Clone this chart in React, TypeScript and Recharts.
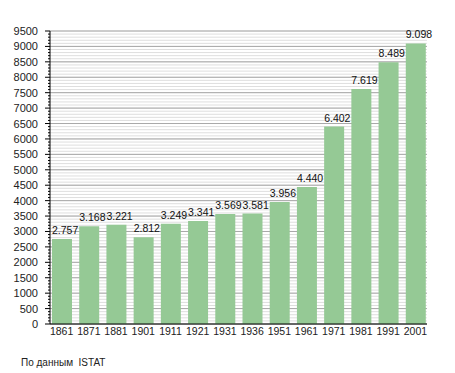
import React from "react";
import { BarChart, Bar, XAxis, YAxis, CartesianGrid, LabelList } from "recharts";

const years = ["1861", "1871", "1881", "1901", "1911", "1921", "1931", "1936", "1951", "1961", "1971", "1981", "1991", "2001"];
const population = [2757, 3168, 3221, 2812, 3249, 3341, 3569, 3581, 3956, 4440, 6402, 7619, 8489, 9098];
const minorTicks = Array.from({ length: 96 }, (_, i) => i * 100);
const majorTicks = minorTicks.filter((v) => v % 500 === 0);
const sourceNote = "По данным  ISTAT";

const data = years.map((y, i) => ({ year: y, value: population[i] }));

const FONT = "'Liberation Sans', Arial, sans-serif";

const fmt = (v: number) => {
  const s = String(v);
  return s.length > 3 ? s.slice(0, s.length - 3) + "." + s.slice(s.length - 3) : s;
};

const YTick = (props: any) => {
  const { x, y, payload } = props;
  const major = payload.value % 500 === 0;
  return (
    <g>
      <line x1={x - (major ? 5 : 2)} x2={x} y1={y} y2={y} stroke="#000" strokeWidth={1} />
      {major && (
        <text x={x - 12} y={y} dy={4} textAnchor="end" fontSize={11} fontFamily={FONT} fill="#222">
          {payload.value}
        </text>
      )}
    </g>
  );
};

const BarLabel = (props: any) => {
  const { x, y, value } = props;
  return (
    <text x={x} y={y - 5} textAnchor="start" fontSize={10.5} fontFamily={FONT} fill="#111">
      {fmt(value)}
    </text>
  );
};

export default function App() {
  return (
    <div style={{ position: "absolute", left: 0, top: 0, width: 455, height: 373, background: "#fff" }}>
      <BarChart
        width={455}
        height={373}
        data={data}
        margin={{ top: 31, right: 28, bottom: 0, left: 0 }}
      >
        <CartesianGrid horizontalValues={minorTicks} vertical={false} stroke="#dedede" strokeWidth={1} />
        <CartesianGrid horizontalValues={majorTicks} vertical={false} stroke="#a8a8a8" strokeWidth={1} />
        <XAxis
          dataKey="year"
          height={49}
          tickLine={false}
          tickSize={0}
          tickMargin={4}
          axisLine={{ stroke: "#000" }}
          padding={{ left: -2, right: -2 }}
          tick={{ fontSize: 10.5, fontFamily: FONT, fill: "#222" }}
          interval={0}
        />
        <YAxis
          width={50}
          domain={[0, 9500]}
          ticks={minorTicks}
          interval={0}
          tickLine={false}
          tickSize={0}
          tickMargin={0}
          axisLine={{ stroke: "#000" }}
          tick={<YTick />}
        />
        <Bar dataKey="value" fill="#95c995" barSize={20} isAnimationActive={false}>
          <LabelList dataKey="value" content={<BarLabel />} />
        </Bar>
      </BarChart>
      <div
        style={{
          position: "absolute",
          left: 21,
          top: 357,
          fontSize: 10,
          fontFamily: FONT,
          color: "#222",
          whiteSpace: "pre",
        }}
      >
        {sourceNote}
      </div>
    </div>
  );
}
